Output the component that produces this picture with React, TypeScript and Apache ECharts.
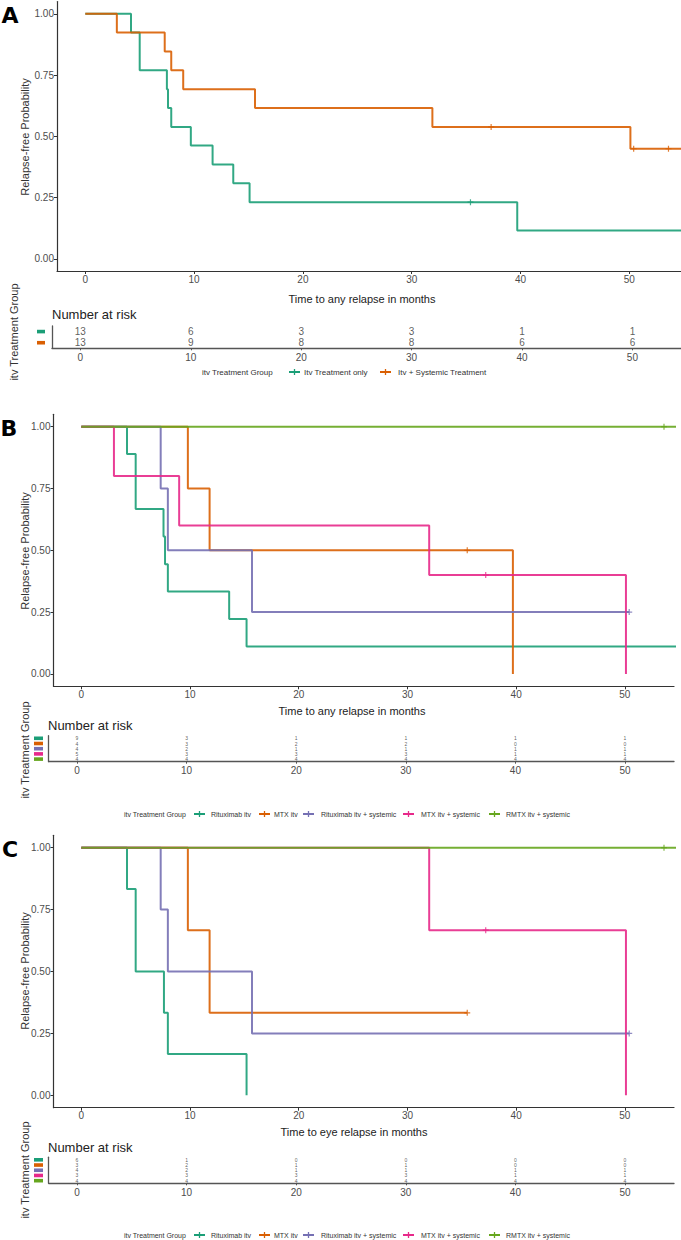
import React, { useEffect, useRef } from "react";
import * as echarts from "echarts";

// ---------------- DATA ----------------
const xTicks = [0, 10, 20, 30, 40, 50];
const yTicks = [0, 0.25, 0.5, 0.75, 1];

// Panel A : any relapse, 2 groups
const groupsA = ["Itv Treatment only", "Itv + Systemic Treatment"];
const colorsA = ["#1B9E77", "#D95F02"];
const aOnlyTimes = [0, 4.2, 5.0, 7.5, 7.6, 7.9, 9.7, 11.7, 13.6, 15.1, 39.7, 56];
const aOnlySurv = [1, 0.923, 0.769, 0.692, 0.615, 0.538, 0.462, 0.385, 0.308, 0.231, 0.115, 0.115];
const aOnlyCensor = [35.4];
const aSysTimes = [0, 2.9, 7.3, 7.9, 9.0, 15.6, 31.9, 50.1, 56];
const aSysSurv = [1, 0.923, 0.846, 0.769, 0.692, 0.615, 0.538, 0.449, 0.449];
const aSysCensor = [37.3, 50.4, 53.6];
const riskA = [
  [13, 6, 3, 3, 1, 1],
  [13, 9, 8, 8, 6, 6],
];

// Panels B and C : 5 groups
const groups5 = ["Rituximab itv", "MTX itv", "Rituximab itv + systemic", "MTX itv + systemic", "RMTX itv + systemic"];
const colors5 = ["#1B9E77", "#D95F02", "#7570B3", "#E7298A", "#66A61E"];

// Panel B : any relapse
const bRitTimes = [0, 4.2, 5.0, 7.56, 7.7, 7.96, 13.6, 15.2, 56];
const bRitSurv = [1, 0.889, 0.667, 0.556, 0.444, 0.333, 0.222, 0.111, 0.111];
const bRitCensor: number[] = [];
const bMtxTimes = [0, 9.8, 11.8, 39.7];
const bMtxSurv = [1, 0.75, 0.5, 0];
const bMtxCensor = [35.5];
const bRitSysTimes = [0, 7.3, 7.96, 15.7, 50.4];
const bRitSysSurv = [1, 0.75, 0.5, 0.25, 0.25];
const bRitSysCensor = [50.4];
const bMtxSysTimes = [0, 3.0, 9.0, 32.0, 50.1];
const bMtxSysSurv = [1, 0.8, 0.6, 0.4, 0];
const bMtxSysCensor = [37.2];
const bRmtxTimes = [0, 56];
const bRmtxSurv = [1, 1];
const bRmtxCensor = [53.6];
const riskB = [
  [9, 3, 1, 1, 1, 1],
  [4, 3, 2, 2, 0, 0],
  [4, 2, 1, 1, 1, 1],
  [5, 3, 3, 3, 1, 1],
  [4, 4, 4, 4, 4, 4],
];

// Panel C : eye relapse
const cRitTimes = [0, 4.2, 5.0, 7.6, 7.96, 15.2];
const cRitSurv = [1, 0.833, 0.5, 0.333, 0.167, 0];
const cRitCensor: number[] = [];
const cMtxTimes = [0, 9.8, 11.8, 35.5];
const cMtxSurv = [1, 0.667, 0.333, 0.333];
const cMtxCensor = [35.5];
const cRitSysTimes = [0, 7.3, 7.96, 15.7, 50.4];
const cRitSysSurv = [1, 0.75, 0.5, 0.25, 0.25];
const cRitSysCensor = [50.4];
const cMtxSysTimes = [0, 32.0, 50.1];
const cMtxSysSurv = [1, 0.667, 0];
const cMtxSysCensor = [37.2];
const cRmtxTimes = [0, 56];
const cRmtxSurv = [1, 1];
const cRmtxCensor = [53.6];
const riskC = [
  [6, 1, 0, 0, 0, 0],
  [3, 2, 1, 1, 0, 0],
  [4, 2, 1, 1, 1, 1],
  [3, 3, 3, 3, 1, 1],
  [4, 4, 4, 4, 4, 4],
];

// ---------------- LAYOUT / STYLE ----------------
const W = 681;
const H = 1240;
const FF = "'Liberation Sans Narrow','Liberation Sans',Arial,sans-serif";
const FF2 = "'Liberation Sans',Arial,sans-serif";
const AX = "#333333";
const TXT = "#4D4D4D";
const PLUS = "path://M4,0h2v4h4v2h-4v4h-2v-4h-4v-2h4z";

type Curve = { t: number[]; s: number[]; c: number[] };

const panels = [
  {
    letter: "A",
    letterPos: [10, 15],
    groups: groupsA,
    colors: colorsA,
    curves: [
      { t: aOnlyTimes, s: aOnlySurv, c: aOnlyCensor },
      { t: aSysTimes, s: aSysSurv, c: aSysCensor },
    ] as Curve[],
    risk: riskA,
    main: { left: 57, top: 1.5, width: 624, height: 269.5, xMin: -2.6, xMax: 54.75 },
    tbl: { left: 52, top: 326, width: 629, height: 22.3, xMin: -2.57, xMax: 54.4 },
    riskFont: 10,
    dashX: 37,
    dashW: 8,
    yTitle: [25, 137],
    xTitle: { text: "Time to any relapse in months", x: 362, y: 299 },
    nar: [52, 314],
    grpTitle: [14, 332],
    legend: { y: 372, titleX: 202, sym: [289, 380], txt: [304, 398], fs: 8 },
  },
  {
    letter: "B",
    letterPos: [9, 428],
    groups: groups5,
    colors: colors5,
    curves: [
      { t: bRitTimes, s: bRitSurv, c: bRitCensor },
      { t: bMtxTimes, s: bMtxSurv, c: bMtxCensor },
      { t: bRitSysTimes, s: bRitSysSurv, c: bRitSysCensor },
      { t: bMtxSysTimes, s: bMtxSysSurv, c: bMtxSysCensor },
      { t: bRmtxTimes, s: bRmtxSurv, c: bRmtxCensor },
    ] as Curve[],
    risk: riskB,
    main: { left: 53.5, top: 414.3, width: 620.5, height: 272, xMin: -2.56, xMax: 54.52 },
    tbl: { left: 48.7, top: 735.7, width: 625.3, height: 26, xMin: -2.58, xMax: 54.47 },
    riskFont: 5,
    dashX: 34,
    dashW: 9,
    yTitle: [25, 551],
    xTitle: { text: "Time to any relapse in months", x: 352, y: 711 },
    nar: [48, 725],
    grpTitle: [25, 750],
    legend: { y: 814, titleX: 124, sym: [194, 259, 303, 403, 489], txt: [211, 274, 321, 421, 506], fs: 7 },
  },
  {
    letter: "C",
    letterPos: [10, 849],
    groups: groups5,
    colors: colors5,
    curves: [
      { t: cRitTimes, s: cRitSurv, c: cRitCensor },
      { t: cMtxTimes, s: cMtxSurv, c: cMtxCensor },
      { t: cRitSysTimes, s: cRitSysSurv, c: cRitSysCensor },
      { t: cMtxSysTimes, s: cMtxSysSurv, c: cMtxSysCensor },
      { t: cRmtxTimes, s: cRmtxSurv, c: cRmtxCensor },
    ] as Curve[],
    risk: riskC,
    main: { left: 53.5, top: 835.3, width: 620.5, height: 272.4, xMin: -2.56, xMax: 54.52 },
    tbl: { left: 48.7, top: 1157.2, width: 625.3, height: 26.1, xMin: -2.58, xMax: 54.47 },
    riskFont: 5,
    dashX: 34,
    dashW: 9,
    yTitle: [25, 971],
    xTitle: { text: "Time to eye relapse in months", x: 354, y: 1132 },
    nar: [48, 1147],
    grpTitle: [25, 1170],
    legend: { y: 1235, titleX: 124, sym: [194, 259, 303, 403, 489], txt: [211, 274, 321, 421, 506], fs: 7 },
  },
];

function survAt(times: number[], surv: number[], t: number) {
  let s = surv[0];
  for (let i = 0; i < times.length; i++) if (times[i] <= t) s = surv[i];
  return s;
}

function txt(text: string, x: number, y: number, fs: number, extra: any = {}) {
  return {
    type: "text",
    x,
    y,
    rotation: extra.rotation || 0,
    silent: true,
    style: {
      text,
      fontSize: fs,
      fontFamily: extra.fontFamily || FF2,
      fontWeight: extra.fontWeight || "normal",
      fill: extra.fill || "#222",
      align: extra.align || "center",
      verticalAlign: "middle",
    },
  };
}

function buildOption() {
  const grid: any[] = [];
  const xAxis: any[] = [];
  const yAxis: any[] = [];
  const series: any[] = [];
  const graphic: any[] = [];

  panels.forEach((p, k) => {
    const gm = 2 * k;
    const gt = 2 * k + 1;
    grid.push({ left: p.main.left, top: p.main.top, width: p.main.width, height: p.main.height });
    grid.push({ left: p.tbl.left, top: p.tbl.top, width: p.tbl.width, height: p.tbl.height });

    xAxis.push({
      type: "value",
      gridIndex: gm,
      min: p.main.xMin,
      max: p.main.xMax,
      axisLine: { show: true, onZero: false, lineStyle: { color: AX, width: 1.2 } },
      axisTick: { show: true, length: 3, customValues: xTicks, lineStyle: { color: AX } },
      axisLabel: { customValues: xTicks, fontSize: 10, color: TXT, margin: 3, fontFamily: FF },
      splitLine: { show: false },
    });
    yAxis.push({
      type: "value",
      gridIndex: gm,
      min: -0.05,
      max: 1.05,
      axisLine: { show: true, onZero: false, lineStyle: { color: AX, width: 1.2 } },
      axisTick: { show: true, length: 3, customValues: yTicks, lineStyle: { color: AX } },
      axisLabel: {
        customValues: yTicks,
        fontSize: 10,
        color: TXT,
        margin: 3,
        fontFamily: FF,
        formatter: (v: number) => v.toFixed(2),
      },
      splitLine: { show: false },
    });
    xAxis.push({
      type: "value",
      gridIndex: gt,
      min: p.tbl.xMin,
      max: p.tbl.xMax,
      axisLine: { show: true, onZero: false, lineStyle: { color: "#555", width: 1.3 } },
      axisTick: { show: true, length: 2, customValues: xTicks, lineStyle: { color: "#555" } },
      axisLabel: { customValues: xTicks, fontSize: 10, color: TXT, margin: 4, fontFamily: FF },
      splitLine: { show: false },
    });
    yAxis.push({
      type: "category",
      gridIndex: gt,
      data: p.groups,
      inverse: true,
      axisLine: { show: true, onZero: false, lineStyle: { color: "#555", width: 1.3 } },
      axisTick: { show: false },
      axisLabel: { show: false },
      splitLine: { show: false },
    });

    // curves
    p.curves.forEach((c, i) => {
      series.push({
        type: "line",
        name: p.groups[i],
        xAxisIndex: gm,
        yAxisIndex: gm,
        step: "end",
        showSymbol: false,
        symbol: "none",
        clip: true,
        lineStyle: { color: p.colors[i], width: 2, opacity: 0.9 },
        data: c.t.map((t, j) => [t, c.s[j]]),
        z: 2,
      });
      if (c.c.length) {
        series.push({
          type: "scatter",
          xAxisIndex: gm,
          yAxisIndex: gm,
          symbol: PLUS,
          symbolSize: 6,
          itemStyle: { color: p.colors[i] },
          data: c.c.map((t) => [t, survAt(c.t, c.s, t)]),
          z: 3,
        });
      }
    });

    // risk table numbers
    const rdata: any[] = [];
    p.risk.forEach((row, g) => row.forEach((n, j) => rdata.push([xTicks[j], g, n])));
    series.push({
      type: "scatter",
      xAxisIndex: gt,
      yAxisIndex: gt,
      symbol: "circle",
      symbolSize: 1,
      itemStyle: { color: "rgba(0,0,0,0)" },
      label: {
        show: true,
        position: "inside",
        fontSize: p.riskFont,
        color: "#333",
        fontFamily: FF,
        formatter: (q: any) => String(q.value[2]),
      },
      data: rdata,
    });

    // panel letter
    graphic.push(
      txt(p.letter, p.letterPos[0], p.letterPos[1], 22, {
        fontWeight: 900,
        fontFamily: "'DejaVu Sans',sans-serif",
        fill: "#000",
      })
    );
    // axis titles
    graphic.push(txt("Relapse-free Probability", p.yTitle[0], p.yTitle[1], 11, { rotation: Math.PI / 2, fill: "#333" }));
    graphic.push(txt(p.xTitle.text, p.xTitle.x, p.xTitle.y, 11, { fill: "#222" }));
    graphic.push(txt("Number at risk", p.nar[0], p.nar[1], 13, { align: "left", fill: "#222" }));
    graphic.push(txt("itv Treatment Group", p.grpTitle[0], p.grpTitle[1], 11, { rotation: Math.PI / 2, fill: "#333" }));

    // colour keys of table rows
    const band = p.tbl.height / p.groups.length;
    p.groups.forEach((_, g) => {
      graphic.push({
        type: "rect",
        silent: true,
        shape: { x: p.dashX, y: p.tbl.top + (g + 0.5) * band - 1.8, width: p.dashW, height: 3.6 },
        style: { fill: p.colors[g] },
      });
    });

    // legend
    const L = p.legend;
    graphic.push(txt("itv Treatment Group", L.titleX, L.y, L.fs, { align: "left", fill: "#333", fontFamily: FF }));
    p.groups.forEach((name, g) => {
      const sx = L.sym[g];
      graphic.push({
        type: "line",
        silent: true,
        shape: { x1: sx, y1: L.y, x2: sx + 11, y2: L.y },
        style: { stroke: p.colors[g], lineWidth: 2 },
      });
      graphic.push({
        type: "line",
        silent: true,
        shape: { x1: sx + 5.5, y1: L.y - 3, x2: sx + 5.5, y2: L.y + 3 },
        style: { stroke: p.colors[g], lineWidth: 1.3 },
      });
      graphic.push(txt(name, L.txt[g], L.y, L.fs, { align: "left", fill: "#333", fontFamily: FF }));
    });
  });

  return {
    animation: false,
    backgroundColor: "#ffffff",
    grid,
    xAxis,
    yAxis,
    series,
    graphic,
  };
}

export default function App() {
  const ref = useRef<HTMLDivElement>(null);
  useEffect(() => {
    document.body.style.margin = "0";
    const chart = echarts.init(ref.current as HTMLDivElement, null, { renderer: "svg" });
    chart.setOption(buildOption() as any);
    return () => chart.dispose();
  }, []);
  return <div ref={ref} style={{ width: W, height: H, background: "#fff" }} />;
}
